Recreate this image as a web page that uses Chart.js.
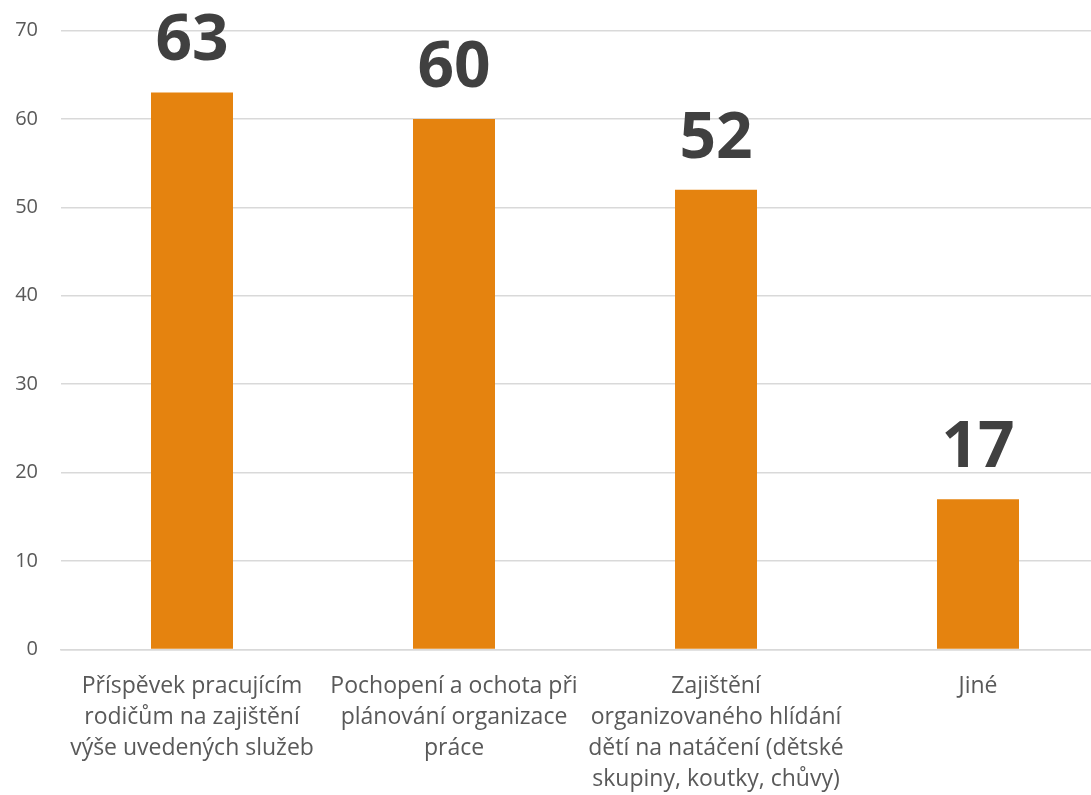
<!DOCTYPE html>
<html lang="cs">
<head>
<meta charset="utf-8">
<title>Graf</title>
<script src="https://cdn.jsdelivr.net/npm/chart.js@4/dist/chart.umd.min.js"></script>
<style>
  html, body { margin: 0; padding: 0; background: #fff; overflow: hidden; }
  #wrap { width: 1091px; height: 795px; overflow: hidden; }
</style>
</head>
<body>
<div id="wrap"><canvas id="chart" width="1110" height="795"></canvas></div>
<script>
// ── Data ──
const CATEGORIES = [
  ['Příspěvek pracujícím', 'rodičům na zajištění', 'výše uvedených služeb'],
  ['Pochopení a ochota při', 'plánování organizace', 'práce'],
  ['Zajištění', 'organizovaného hlídání', 'dětí na natáčení (dětské', 'skupiny, koutky, chůvy)'],
  ['Jiné'],
];
const VALUES = [63, 60, 52, 17];
const Y_TICKS = [0, 10, 20, 30, 40, 50, 60, 70];

const FONT = "'Open Sans', 'Noto Sans', sans-serif";

// ── Popisky hodnot nad sloupci ──
const valueLabels = {
  id: 'valueLabels',
  afterDatasetsDraw(chart) {
    const { ctx } = chart;
    const meta = chart.getDatasetMeta(0);
    ctx.save();
    ctx.font = `bold 64px ${FONT}`;
    ctx.fillStyle = '#404040';
    ctx.textAlign = 'center';
    ctx.textBaseline = 'alphabetic';
    meta.data.forEach((bar, i) => {
      ctx.fillText(String(VALUES[i]), bar.x, bar.y - 32);
    });
    ctx.restore();
  }
};

new Chart(document.getElementById('chart'), {
  type: 'bar',
  data: {
    labels: CATEGORIES,
    datasets: [{
      data: VALUES,
      backgroundColor: '#e5830f',
      borderWidth: 0,
      barPercentage: 0.313,
      categoryPercentage: 1,
    }]
  },
  options: {
    responsive: false,
    animation: false,
    devicePixelRatio: 1,
    layout: { padding: { top: 30.5, right: 1, bottom: 0, left: 0 } },
    plugins: {
      legend: { display: false },
      tooltip: { enabled: false },
    },
    scales: {
      x: {
        grid: { display: false, drawTicks: false },
        border: { display: true, color: '#d9d9d9', width: 1.5 },
        ticks: {
          color: '#595959',
          font: { family: FONT, size: 23, lineHeight: 1.35 },
          padding: 21,
          maxRotation: 0,
          autoSkip: false,
        },
        afterFit: s => { s.height = 145.5; },
      },
      y: {
        min: 0,
        max: 70,
        afterBuildTicks: s => { s.ticks = Y_TICKS.map(v => ({ value: v })); },
        grid: { color: '#d9d9d9', lineWidth: 1.5, drawTicks: false },
        border: { display: false },
        ticks: {
          color: '#595959',
          font: { family: FONT, size: 20 },
          padding: 23,
        },
        // pevná šířka osy, bez extra odsazení nahoře/dole
        afterFit: s => { s.width = 61; s.paddingTop = 0; s.paddingBottom = 0; },
      }
    }
  },
  plugins: [valueLabels]
});
</script>
</body>
</html>
